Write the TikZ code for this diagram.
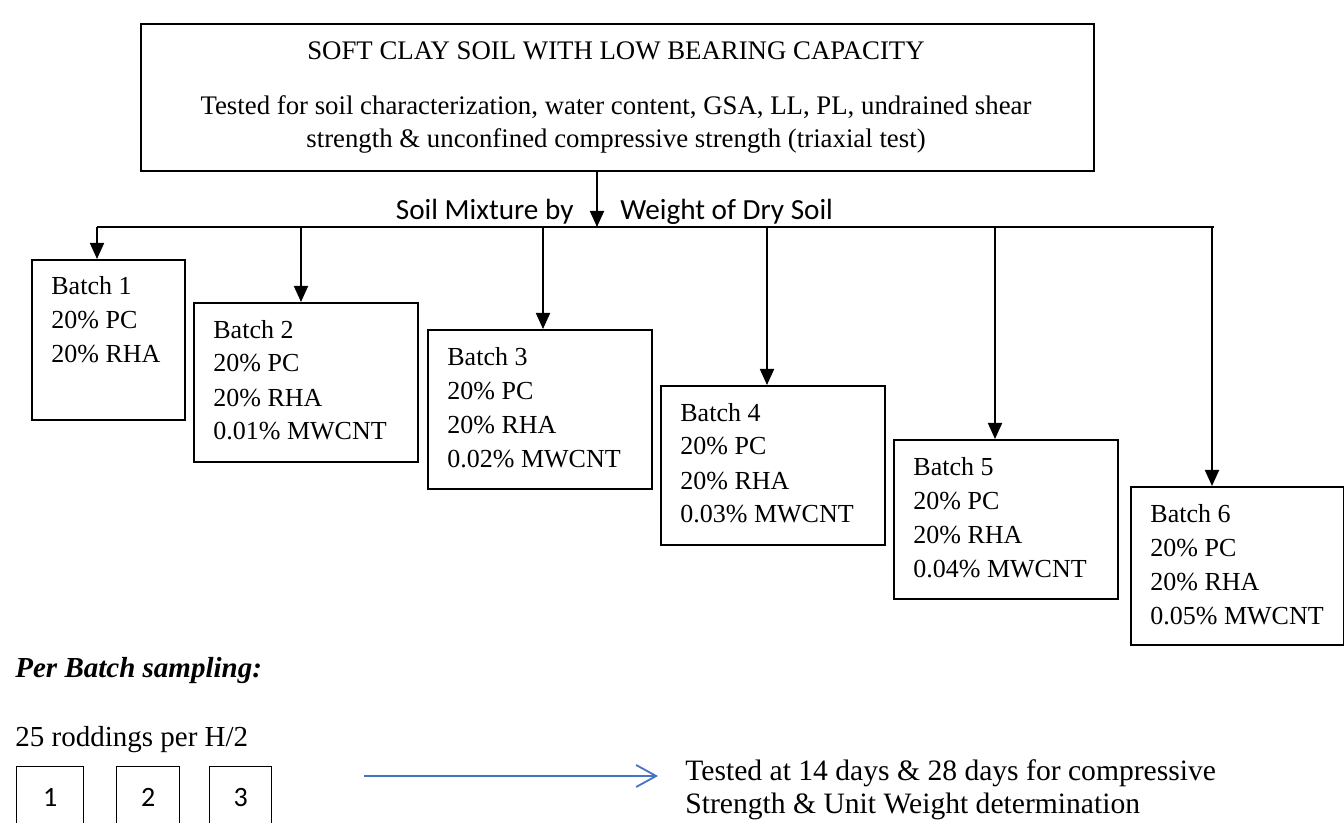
\documentclass[tikz,border=0pt]{standalone}
\usepackage{fontspec}
\setmainfont{Liberation Serif}
\newfontfamily\calibrifont{Carlito}
\usepackage{xcolor}
\definecolor{flowblue}{RGB}{68,114,196}
\usetikzlibrary{arrows.meta,positioning,calc}

\begin{document}
\begin{tikzpicture}[
  x=0.5pt, y=-0.5pt,
  every node/.style={inner sep=0pt},
  soilbox/.style={draw,line width=0.8pt,anchor=north west,
                  minimum width=476.5pt,minimum height=73.5pt},
  batchbox/.style={draw,line width=0.8pt,anchor=north west,
                   minimum width=112pt,minimum height=79.5pt},
  batchtext/.style={anchor=base west,align=left,font=\fontsize{13}{17}\selectfont},
  samplebox/.style={draw,line width=0.6pt,anchor=north west,minimum height=31pt,
                    font=\calibrifont\fontsize{14}{17}\selectfont},
  feedarrow/.style={line width=0.9pt,-{Triangle[width=7pt,length=8pt]}},
  testarrow/.style={line width=0.9pt,draw=flowblue,-{Straight Barb[length=10pt,width=11pt]}},
]
  \useasboundingbox (0,0) rectangle (1344,823);

  % soil box (text anchored on its last line)
  \node[soilbox] (soil) at (140,23) {};
  \node[anchor=base,align=center,font=\fontsize{13.4}{16.5}\selectfont] (soiltxt) at (616,148)
    {SOFT CLAY SOIL WITH LOW BEARING CAPACITY\\[11pt]
     Tested for soil characterization, water content, GSA, LL, PL, undrained shear\\
     strength \& unconfined compressive strength (triaxial test)};

  % mixture split
  \coordinate (split) at (597,227);
  \node[anchor=base east,font=\calibrifont\fontsize{14.6}{17}\selectfont] (mixleft) at (574,220) {Soil Mixture by};
  \node[anchor=base west,font=\calibrifont\fontsize{14.6}{17}\selectfont] (mixright) at (620,220) {Weight of Dry Soil};
  \draw[feedarrow] (soil.south -| split) -- (split);

  % bus line
  \coordinate (busleft) at (97,227);
  \coordinate (busright) at (1214,227);
  \draw[line width=0.8pt] (busleft) -- (busright);
  \coordinate (tap2) at (301,227);
  \coordinate (tap3) at (543,227);
  \coordinate (tap4) at (767,227);
  \coordinate (tap5) at (995,227);
  \coordinate (tap6) at (1212,227);

  % batches (text anchored on its last line)
  \node[batchbox,minimum width=76.5pt,minimum height=80pt] (batch1) at (31,259) {};
  \node[batchtext] (batch1txt) at ($(batch1.north west)+(20,104)$)
    {Batch 1\\20\% PC\\20\% RHA};
  \node[batchbox] (batch2) at (193,302) {};
  \node[batchtext] (batch2txt) at ($(batch2.north west)+(20,138)$)
    {Batch 2\\20\% PC\\20\% RHA\\0.01\% MWCNT};
  \node[batchbox] (batch3) at (427,329) {};
  \node[batchtext] (batch3txt) at ($(batch3.north west)+(20,138)$)
    {Batch 3\\20\% PC\\20\% RHA\\0.02\% MWCNT};
  \node[batchbox] (batch4) at (660,385) {};
  \node[batchtext] (batch4txt) at ($(batch4.north west)+(20,138)$)
    {Batch 4\\20\% PC\\20\% RHA\\0.03\% MWCNT};
  \node[batchbox] (batch5) at (893,439) {};
  \node[batchtext] (batch5txt) at ($(batch5.north west)+(20,138)$)
    {Batch 5\\20\% PC\\20\% RHA\\0.04\% MWCNT};
  \node[batchbox,minimum width=106.5pt,minimum height=79pt] (batch6) at (1130,486) {};
  \node[batchtext] (batch6txt) at ($(batch6.north west)+(20,138)$)
    {Batch 6\\20\% PC\\20\% RHA\\0.05\% MWCNT};

  % feeds
  \draw[feedarrow] (busleft) -- (busleft |- batch1.north);
  \draw[feedarrow] (tap2) -- (tap2 |- batch2.north);
  \draw[feedarrow] (tap3) -- (tap3 |- batch3.north);
  \draw[feedarrow] (tap4) -- (tap4 |- batch4.north);
  \draw[feedarrow] (tap5) -- (tap5 |- batch5.north);
  \draw[feedarrow] (tap6) -- (tap6 |- batch6.north);

  % sampling
  \node[anchor=base west,font=\fontsize{14.5}{17}\selectfont\bfseries\itshape] (sampling) at (15,677)
    {Per Batch sampling:};
  \node[anchor=base west,font=\fontsize{14.5}{17}\selectfont] (rodding) at (15,746)
    {25 roddings per H/2};
  \node[samplebox,minimum width=33.5pt] (sample1) at (16,766) {1};
  \node[samplebox,minimum width=31.5pt] (sample2) at (116,766) {2};
  \node[samplebox,minimum width=31pt] (sample3) at (209,766) {3};

  % test result
  \coordinate (testfrom) at (364,776);
  \coordinate (testto) at (658,776);
  \draw[testarrow] (testfrom) -- (testto);
  \node[anchor=base west,align=left,font=\fontsize{14.8}{16.5}\selectfont] (testresult) at (685,813)
    {Tested at 14 days \& 28 days for compressive\\Strength \& Unit Weight determination};
\end{tikzpicture}
\end{document}
